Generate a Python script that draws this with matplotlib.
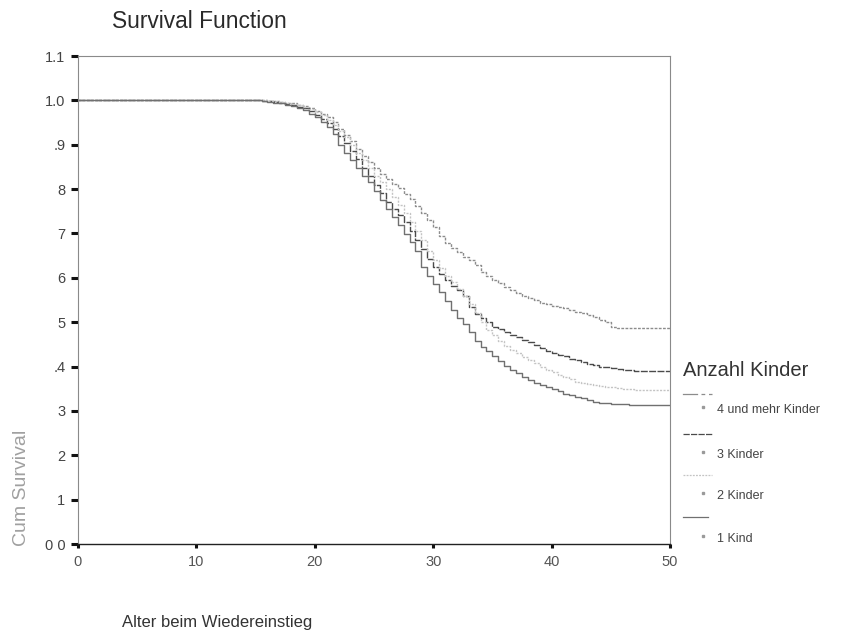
import numpy as np
import matplotlib
matplotlib.use("Agg")
import matplotlib.pyplot as plt
from matplotlib.lines import Line2D

plt.rcParams['font.family'] = ['Liberation Sans', 'DejaVu Sans']

# half-year grid of ages, 15.0 .. 47.5
ages = np.arange(15.0, 47.75, 0.5)

kind1 = [1.0, 0.998, 0.997, 0.995, 0.993, 0.99, 0.987, 0.983, 0.978, 0.97,
         0.962, 0.952, 0.94, 0.925, 0.9, 0.882, 0.866, 0.847, 0.83, 0.815,
         0.795, 0.775, 0.755, 0.737, 0.72, 0.698, 0.68, 0.66, 0.625, 0.603,
         0.585, 0.568, 0.548, 0.528, 0.51, 0.495, 0.478, 0.458, 0.445, 0.435,
         0.423, 0.412, 0.402, 0.393, 0.385, 0.376, 0.369, 0.364, 0.359, 0.354,
         0.35, 0.345, 0.339, 0.335, 0.331, 0.328, 0.325, 0.32, 0.318, 0.317,
         0.316, 0.315, 0.315, 0.314, 0.314, 0.314]
kinder2 = [1.0, 1.0, 0.999, 0.998, 0.996, 0.994, 0.992, 0.989, 0.985, 0.98,
           0.974, 0.966, 0.956, 0.945, 0.932, 0.917, 0.9, 0.882, 0.865, 0.848,
           0.83, 0.815, 0.8, 0.783, 0.765, 0.745, 0.725, 0.705, 0.685, 0.66,
           0.64, 0.622, 0.605, 0.59, 0.575, 0.56, 0.54, 0.52, 0.5, 0.483,
           0.47, 0.457, 0.447, 0.438, 0.43, 0.422, 0.414, 0.407, 0.4, 0.393,
           0.387, 0.381, 0.376, 0.371, 0.366, 0.362, 0.36, 0.358, 0.356, 0.355,
           0.353, 0.351, 0.35, 0.349, 0.348, 0.348]
kinder3 = [1.0, 0.999, 0.998, 0.996, 0.994, 0.992, 0.99, 0.986, 0.982, 0.976,
           0.968, 0.958, 0.948, 0.935, 0.92, 0.903, 0.885, 0.867, 0.848, 0.83,
           0.81, 0.792, 0.772, 0.755, 0.742, 0.725, 0.705, 0.685, 0.665, 0.642,
           0.625, 0.608, 0.595, 0.582, 0.572, 0.558, 0.535, 0.518, 0.51, 0.5,
           0.49, 0.485, 0.478, 0.472, 0.466, 0.46, 0.455, 0.448, 0.442, 0.435,
           0.43, 0.427, 0.423, 0.418, 0.414, 0.41, 0.406, 0.403, 0.4, 0.398,
           0.396, 0.395, 0.393, 0.392, 0.391, 0.39]
kinder4 = [1.0, 1.0, 0.999, 0.998, 0.997, 0.995, 0.993, 0.99, 0.987, 0.983,
           0.977, 0.97, 0.962, 0.952, 0.935, 0.922, 0.908, 0.89, 0.874, 0.86,
           0.848, 0.833, 0.822, 0.812, 0.802, 0.79, 0.777, 0.762, 0.745, 0.73,
           0.715, 0.695, 0.678, 0.668, 0.658, 0.648, 0.64, 0.628, 0.612, 0.603,
           0.595, 0.588, 0.58, 0.573, 0.566, 0.56, 0.555, 0.549, 0.543, 0.54,
           0.537, 0.535, 0.533, 0.528, 0.524, 0.52, 0.517, 0.512, 0.506, 0.5,
           0.49, 0.488, 0.488, 0.488, 0.488, 0.488]

labels = ["4 und mehr Kinder", "3 Kinder", "2 Kinder", "1 Kind"]
yticks = [0, 0.1, 0.2, 0.3, 0.4, 0.5, 0.6, 0.7, 0.8, 0.9, 1.0, 1.1]
ytick_labels = ["0 0", "1", "2", "3", ".4", "5", "6", "7", "8", ".9", "1.0", "1.1"]
xticks = [0, 10, 20, 30, 40, 50]

series = [kinder4, kinder3, kinder2, kind1]
colors = ["#8c8c8c", "#4a4a4a", "#c4c4c4", "#707070"]
styles = [(0, (2, 1)), (0, (5, 1)), (0, (1.5, 1)), "-"]

fig = plt.figure(figsize=(8.5, 6.36), dpi=100)
ax = fig.add_axes([78/850, 1-544/636, (670-78)/850, (544-56)/636])

for vals, c, ls in zip(series, colors, styles):
    x = np.concatenate([[0.0], ages, [50.0]])
    y = np.concatenate([[1.0], vals, [vals[-1]]])
    ax.step(x, y, where='post', color=c, linestyle=ls, lw=1.0)

ax.set_xlim(0, 50)
ax.set_ylim(0, 1.1)
ax.set_yticks(yticks)
ax.set_yticklabels(ytick_labels)
ax.set_xticks(xticks)
for s in ['top', 'right', 'left']:
    ax.spines[s].set_color('#8a8a8a')
    ax.spines[s].set_linewidth(0.8)
ax.spines['bottom'].set_color('#222222')
ax.spines['bottom'].set_linewidth(1.0)
ax.tick_params(axis='y', direction='out', length=5, width=2.2, color='#111111',
               labelsize=10.5, labelcolor='#444444', pad=4)
ax.tick_params(axis='x', direction='out', length=3, width=2.2, color='#111111',
               labelsize=10.5, labelcolor='#555555', pad=5)

fig.text(112/850, 1-22/636, "Survival Function", fontsize=16.4, color='#2a2a2a',
         ha='left', va='center')
fig.text(22/850, 1-488/636, "Cum Survival", fontsize=14, color='#a0a0a0',
         rotation=90, ha='center', va='center')
fig.text(122/850, 1-622/636, "Alter beim Wiedereinstieg", fontsize=12,
         color='#333333', ha='left', va='center')

# legend drawn by hand
fig.text(683/850, 1-370/636, "Anzahl Kinder", fontsize=14.5, color='#333333',
         ha='left', va='center')
sample_y = [394, 434, 475, 517]
label_y = [410, 455, 496, 539]
for i, lab in enumerate(labels):
    yy = 1 - sample_y[i]/636
    if i == 0:
        fig.add_artist(Line2D([683/850, 697/850], [yy, yy], color=colors[0], lw=0.9))
        fig.add_artist(Line2D([701/850, 712/850], [yy, yy], color=colors[0], lw=0.9,
                              linestyle=(0, (3, 3))))
    elif i == 3:
        fig.add_artist(Line2D([683/850, 708/850], [yy, yy], color=colors[3], lw=0.9))
    else:
        fig.add_artist(Line2D([683/850, 712/850], [yy, yy], color=colors[i], lw=0.9,
                              linestyle=styles[i]))
    ly = 1 - label_y[i]/636
    fig.add_artist(Line2D([703/850], [ly + 0.004], marker='s', markersize=2,
                          color='#9a9a9a', linestyle='none'))
    fig.text(717/850, ly, lab, fontsize=9, color='#444444', ha='left', va='center')

fig.savefig("out.png", dpi=100)
